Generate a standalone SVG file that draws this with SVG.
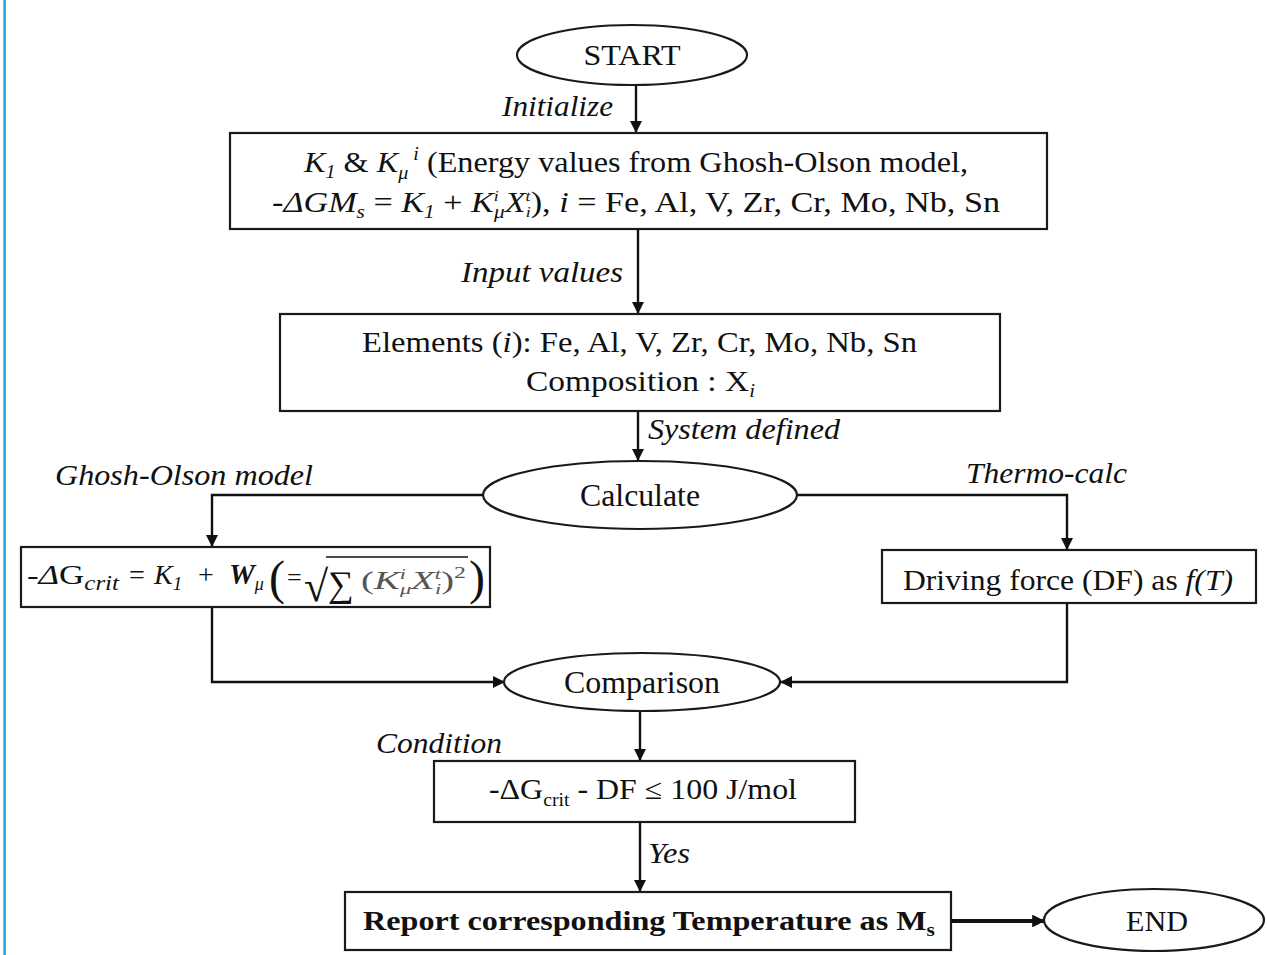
<svg xmlns="http://www.w3.org/2000/svg" width="1267" height="955" viewBox="0 0 1267 955">
<style>
  .bg{fill:#ffffff}
  .box{fill:#ffffff;stroke:#1a1a1a;stroke-width:2.2}
  .ell{fill:#ffffff;stroke:#1a1a1a;stroke-width:2.2}
  .con{fill:none;stroke:#111111;stroke-width:2.4}
  .thick{fill:none;stroke:#111111;stroke-width:4}
  text{font-family:"Liberation Serif","Times New Roman",serif;fill:#111111}
  .t{font-size:29px}
  .n{font-size:31px}
  .lbl{font-size:29px;font-style:italic}
  .i{font-style:italic}
  .g{fill:#555555}
</style>
<defs>
  <marker id="ah" viewBox="0 0 10 10" refX="10" refY="5" markerWidth="5" markerHeight="5" markerUnits="strokeWidth" orient="auto">
    <path d="M0,0 L10,5 L0,10 z" fill="#111111"/>
  </marker>
  <marker id="ah2" viewBox="0 0 10 10" refX="10" refY="5" markerWidth="3.2" markerHeight="3.2" markerUnits="strokeWidth" orient="auto">
    <path d="M0,0 L10,5 L0,10 z" fill="#111111"/>
  </marker>
</defs>
<rect class="bg" x="0" y="0" width="1267" height="955"/>
<rect x="3.3" y="0" width="2.6" height="955" fill="#25a6e2"/>

<g id="connectors">
  <line class="con" x1="636" y1="85" x2="636" y2="133" marker-end="url(#ah)"/>
  <line class="con" x1="638" y1="229" x2="638" y2="314" marker-end="url(#ah)"/>
  <line class="con" x1="638" y1="411" x2="638" y2="461" marker-end="url(#ah)"/>
  <polyline class="con" points="483,495 212,495 212,547" marker-end="url(#ah)"/>
  <polyline class="con" points="797,495 1067,495 1067,550" marker-end="url(#ah)"/>
  <polyline class="con" points="212,607 212,682 505,682" marker-end="url(#ah)"/>
  <polyline class="con" points="1067,603 1067,682 780,682" marker-end="url(#ah)"/>
  <line class="con" x1="640" y1="711" x2="640" y2="761" marker-end="url(#ah)"/>
  <line class="con" x1="640" y1="822" x2="640" y2="892" marker-end="url(#ah)"/>
  <line class="thick" x1="951" y1="921" x2="1045" y2="921" marker-end="url(#ah2)"/>
</g>

<g id="labels">
  <text class="lbl" x="502" y="116" textLength="111" lengthAdjust="spacingAndGlyphs">Initialize</text>
  <text class="lbl" x="461" y="282" textLength="162" lengthAdjust="spacingAndGlyphs">Input values</text>
  <text class="lbl" x="648" y="439" textLength="192" lengthAdjust="spacingAndGlyphs">System defined</text>
  <text class="lbl" x="55" y="485" textLength="258" lengthAdjust="spacingAndGlyphs">Ghosh-Olson model</text>
  <text class="lbl" x="966" y="483" textLength="161" lengthAdjust="spacingAndGlyphs">Thermo-calc</text>
  <text class="lbl" x="376" y="753" textLength="126" lengthAdjust="spacingAndGlyphs">Condition</text>
  <text class="lbl" x="648" y="863" textLength="42" lengthAdjust="spacingAndGlyphs">Yes</text>
</g>

<g id="start">
  <ellipse class="ell" cx="632" cy="55" rx="115" ry="30"/>
  <text class="t" x="632" y="65" text-anchor="middle" textLength="97" lengthAdjust="spacingAndGlyphs">START</text>
</g>

<g id="energy">
  <rect class="box" x="230" y="133" width="817" height="96"/>
  <text class="t" x="304" y="172" textLength="664" lengthAdjust="spacingAndGlyphs"><tspan class="i">K</tspan><tspan class="i" font-size="18" dy="6">1</tspan><tspan dy="-6"> &amp; </tspan><tspan class="i">K</tspan><tspan class="i" font-size="18" dy="7">μ</tspan><tspan class="i" font-size="18" dy="-19"> i</tspan><tspan dy="12"> (Energy values from Ghosh-Olson model,</tspan></text>
  <text class="t" x="272" y="212" textLength="728" lengthAdjust="spacingAndGlyphs">-<tspan class="i">ΔGM</tspan><tspan class="i" font-size="18" dy="6">s</tspan><tspan dy="-6"> = </tspan><tspan class="i">K</tspan><tspan class="i" font-size="18" dy="6">1</tspan><tspan dy="-6"> + </tspan><tspan class="i">K</tspan><tspan class="i" font-size="15" dy="-11">i</tspan><tspan class="i" font-size="18" dx="-4" dy="17">μ</tspan><tspan class="i" dy="-6">X</tspan><tspan class="i" font-size="15" dy="-11">t</tspan><tspan class="i" font-size="15" dx="-4" dy="16">i</tspan><tspan dy="-5">), </tspan><tspan class="i">i</tspan><tspan> = Fe, Al, V, Zr, Cr, Mo, Nb, Sn</tspan></text>
</g>

<g id="elements">
  <rect class="box" x="280" y="314" width="720" height="97"/>
  <text class="t" x="362" y="352" textLength="555" lengthAdjust="spacingAndGlyphs">Elements (<tspan class="i">i</tspan>): Fe, Al, V, Zr, Cr, Mo, Nb, Sn</text>
  <text class="t" x="526" y="391" textLength="229" lengthAdjust="spacingAndGlyphs">Composition :  X<tspan class="i" font-size="18" dy="6">i</tspan></text>
</g>

<g id="calculate">
  <ellipse class="ell" cx="640" cy="495" rx="157" ry="34"/>
  <text class="n" x="640" y="506" text-anchor="middle" textLength="120" lengthAdjust="spacingAndGlyphs">Calculate</text>
</g>

<g id="gcrit">
  <rect class="box" x="21" y="547" width="469" height="60"/>
  <text font-size="28" x="27" y="584" textLength="92" lengthAdjust="spacingAndGlyphs">-<tspan class="i">Δ</tspan>G<tspan class="i" font-size="20" dy="6">crit</tspan></text>
  <text font-size="28" x="129" y="584">=</text>
  <text font-size="28" class="i" x="154" y="584">K<tspan font-size="19" dy="6">1</tspan></text>
  <text font-size="28" x="198" y="584">+</text>
  <text font-size="29" class="i" font-weight="bold" x="229" y="584">W<tspan font-size="18" font-weight="normal" dy="6">μ</tspan></text>
  <text font-size="48" x="269" y="594">(</text>
  <text font-size="26" x="287" y="586">=</text>
  <text font-size="44" x="304" y="601">√</text>
  <line x1="326" y1="557" x2="468" y2="557" stroke="#111111" stroke-width="1.6"/>
  <text font-size="36" x="328" y="596">∑</text>
  <text font-size="26" class="g" x="361" y="589" textLength="105" lengthAdjust="spacingAndGlyphs">(<tspan class="i">K</tspan><tspan class="i" font-size="15" dy="-10">i</tspan><tspan class="i" font-size="15" dx="-4" dy="15">μ</tspan><tspan class="i" dy="-5">X</tspan><tspan class="i" font-size="15" dy="-10">t</tspan><tspan class="i" font-size="15" dx="-4" dy="15">i</tspan><tspan dy="-5">)</tspan><tspan font-size="16" dy="-11">2</tspan></text>
  <text font-size="48" x="469" y="594">)</text>
</g>

<g id="drivingforce">
  <rect class="box" x="882" y="550" width="374" height="53"/>
  <text class="t" x="903" y="590" textLength="330" lengthAdjust="spacingAndGlyphs">Driving force (DF) as <tspan class="i">f(T)</tspan></text>
</g>

<g id="comparison">
  <ellipse class="ell" cx="642" cy="682" rx="138" ry="29"/>
  <text class="n" x="642" y="693" text-anchor="middle" textLength="156" lengthAdjust="spacingAndGlyphs">Comparison</text>
</g>

<g id="condition">
  <rect class="box" x="434" y="761" width="421" height="61"/>
  <text class="t" x="489" y="799" textLength="308" lengthAdjust="spacingAndGlyphs">-ΔG<tspan font-size="18" dy="7">crit</tspan><tspan dy="-7"> - DF ≤ 100 J/mol</tspan></text>
</g>

<g id="report">
  <rect class="box" x="345" y="892" width="606" height="58"/>
  <text font-size="27" font-weight="bold" x="363" y="930" textLength="572" lengthAdjust="spacingAndGlyphs">Report corresponding Temperature as M<tspan font-size="18" dy="6">s</tspan></text>
</g>

<g id="end">
  <ellipse class="ell" cx="1154" cy="920" rx="110" ry="31"/>
  <text class="t" x="1157" y="931" text-anchor="middle" textLength="62" lengthAdjust="spacingAndGlyphs">END</text>
</g>
</svg>
